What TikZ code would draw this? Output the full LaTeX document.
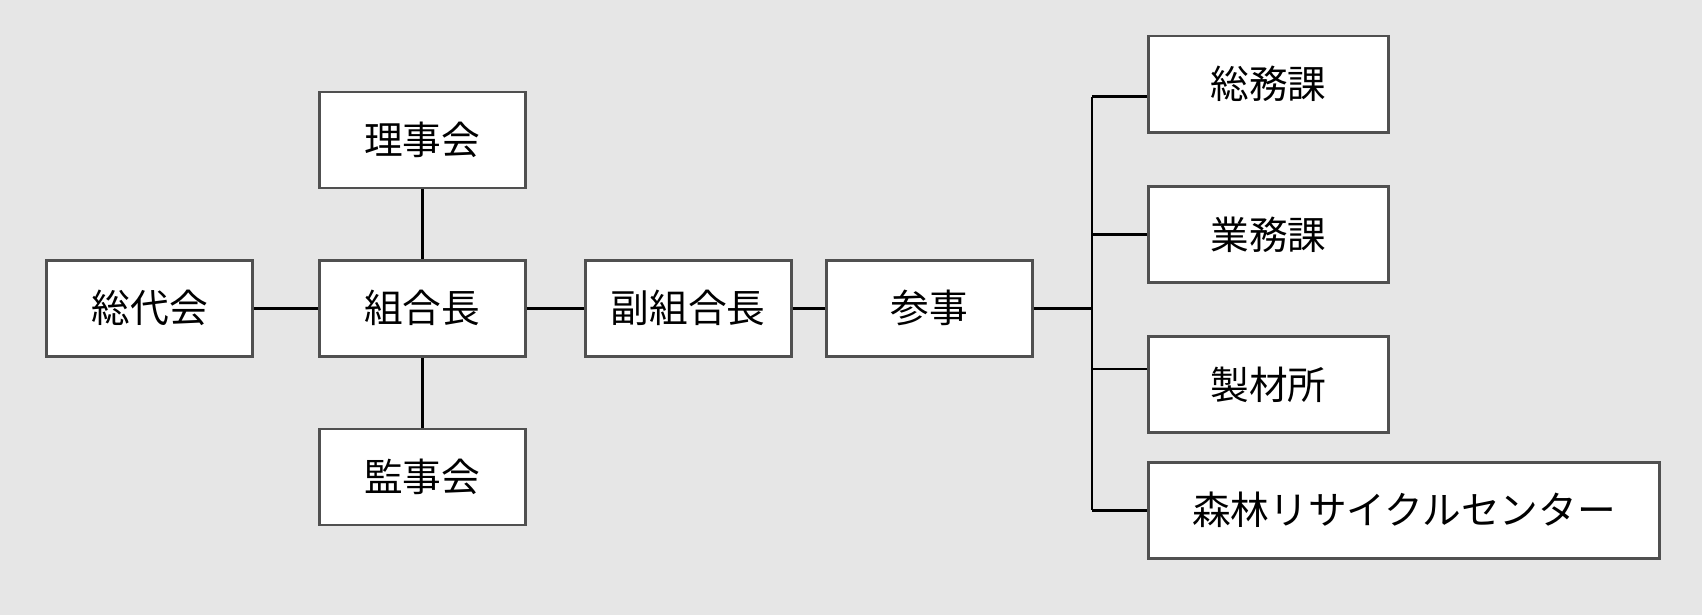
\documentclass[tikz,border=0pt]{standalone}
\usepackage{fontspec}
\newfontfamily\cjk{Noto Sans CJK JP}
\definecolor{bg}{HTML}{E6E6E6}
\definecolor{edge}{HTML}{505050}
\begin{document}
\begin{tikzpicture}[x=0.010855cm,y=-0.010855cm,
  box/.style={draw=edge,fill=white,thick,minimum height=0.96cm,inner sep=0pt,font=\cjk\fontsize{11}{13}\selectfont},
  box2/.style={box,minimum width=2.06cm},
  box3/.style={box,minimum width=2.40cm},
  link/.style={thick,black}]
\fill[bg] (0,0) rectangle (1568,567);
\useasboundingbox (0,0) rectangle (1568,567);

\node[box2] (sodai) at (138,284) {総代会};
\node[box2] (riji) at (389,129) {理事会};
\node[box2] (kumi) at (389,284) {組合長};
\node[box2] (kanji) at (389,439.5) {監事会};
\node[box2] (fuku) at (634,284) {副組合長};
\node[box2] (sanji) at (856,284) {参事};
\node[box3] (somu) at (1168.5,77.5) {総務課};
\node[box3] (gyomu) at (1168.5,216) {業務課};
\node[box3] (seizai) at (1168.5,354.5) {製材所};
\node[box,minimum width=5.11cm] (center) at (1293.5,470) {森林リサイクルセンター};

\coordinate (bus) at (1006,284);
\coordinate (b1) at (1006,89);
\coordinate (b2) at (1006,216);
\coordinate (b3) at (1006,340);
\coordinate (b4) at (1006,470);

\draw[link] (sodai)--(kumi);
\draw[link] (riji)--(kumi);
\draw[link] (kumi)--(kanji);
\draw[link] (kumi)--(fuku);
\draw[link] (fuku)--(sanji);
\draw[link] (sanji)--(bus);
\draw[link] (b1)--(b4);
\draw[link] (b1)--(b1-|somu.west);
\draw[link] (b2)--(b2-|gyomu.west);
\draw[link] (b3)--(b3-|seizai.west);
\draw[link] (b4)--(center);
\end{tikzpicture}
\end{document}
